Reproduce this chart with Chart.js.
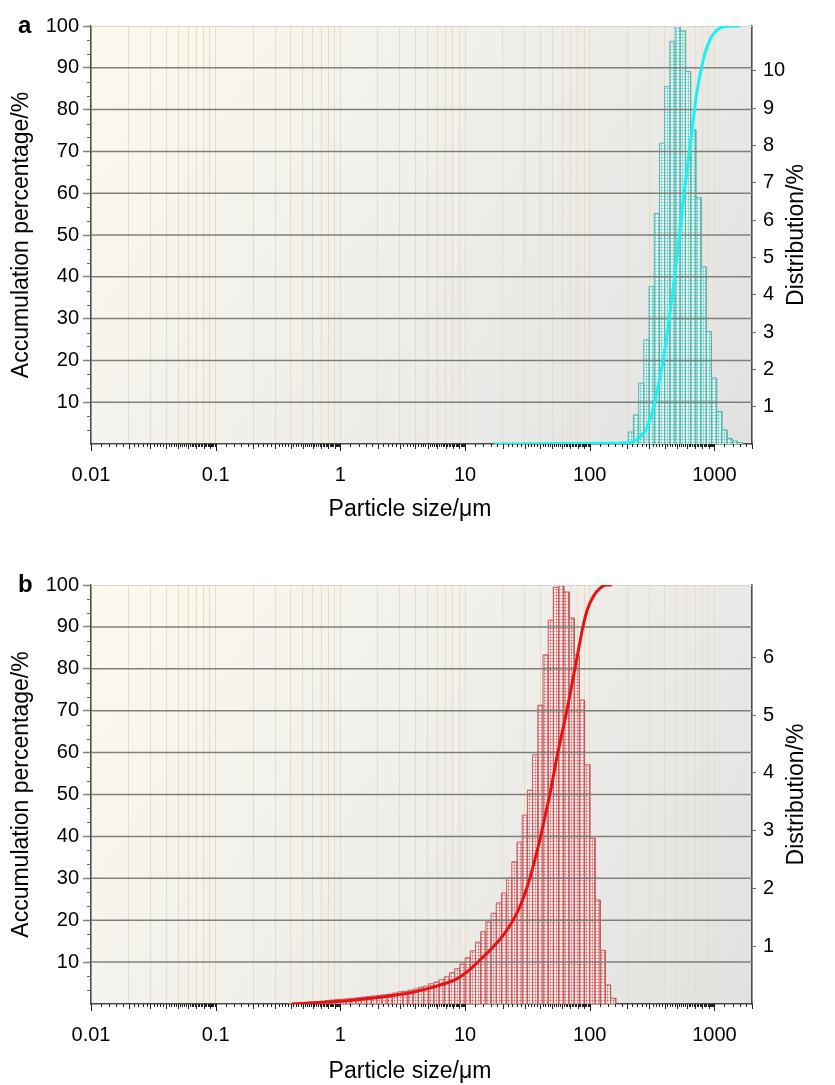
<!DOCTYPE html>
<html lang="en">
<head>
<meta charset="UTF-8" />
<title>Particle size distribution</title>
<script src="https://cdn.jsdelivr.net/npm/chart.js@4.4.1/dist/chart.umd.min.js"></script>
<style>
  body { margin: 0; background: #fff; }
  #wrap { position: relative; width: 835px; height: 1085px; }
  canvas { position: absolute; left: 0; }
</style>
</head>
<body>
<div id="wrap">
  <canvas id="chartA" width="835" height="540" style="top:0px"></canvas>
  <canvas id="chartB" width="835" height="545" style="top:540px"></canvas>
</div>
<script>
// tick labels
const decadeTicks = [0.01, 0.1, 1, 10, 100, 1000];
const leftTicks = [10, 20, 30, 40, 50, 60, 70, 80, 90, 100];
const rightTicksA = [1, 2, 3, 4, 5, 6, 7, 8, 9, 10];
const rightTicksB = [1, 2, 3, 4, 5, 6];

// panel a: size class edges (µm) and distribution (%)
const binEdgesA = [185, 203.5, 224, 246.6, 271.4, 298.8, 328.9, 362, 398.4, 438.6, 482.8, 531.3,
  584.8, 643.8, 708.5, 779.9, 858.4, 944.8, 1040, 1144.7, 1260, 1386.8, 1526.5, 1680];
const distA = [0.05, 0.32, 0.78, 1.63, 2.79, 4.22, 6.18, 8.06, 9.58, 10.79, 11.19, 11.07, 9.98,
  8.42, 6.60, 4.75, 3.01, 1.77, 0.87, 0.38, 0.15, 0.08, 0.04];
// panel a: accumulation curve
const cumSizeA = [17, 60, 150, 200, 223, 268, 304, 344, 388, 440, 497, 546, 598, 656, 720, 813, 920, 1107, 1409, 1600];
const cumA = [0, 0.1, 0.2, 0.3, 0.55, 2.5, 5.7, 12.1, 20.1, 31.3, 44.0, 55.2, 64.8, 74.4, 83.9, 91.9, 96.7, 99.5, 100, 100];

// panel b
const binEdgesB = [0.383, 0.422, 0.464, 0.511, 0.562, 0.619, 0.681, 0.750, 0.825, 0.909,
  1, 1.101, 1.212, 1.334, 1.468, 1.616, 1.778, 1.957, 2.154, 2.371, 2.610, 2.873,
  3.162, 3.481, 3.831, 4.217, 4.642, 5.109, 5.623, 6.190, 6.813, 7.499, 8.254, 9.085,
  10, 11.01, 12.12, 13.34, 14.68, 16.16, 17.78, 19.57, 21.54, 23.71, 26.10, 28.73,
  31.62, 34.81, 38.31, 42.17, 46.42, 51.09, 56.23, 61.90, 68.13, 74.99, 82.54, 90.85,
  100, 110.1, 121.2, 133.4, 146.8, 161.6];
const distB = [0.01, 0.015, 0.02, 0.03, 0.04, 0.045, 0.05, 0.06, 0.07, 0.08, 0.085, 0.09,
  0.10, 0.11, 0.12, 0.13, 0.14, 0.15, 0.16, 0.17, 0.19, 0.21, 0.22, 0.24, 0.26, 0.29,
  0.31, 0.35, 0.38, 0.42, 0.47, 0.54, 0.61, 0.69, 0.80, 0.92, 1.07, 1.25, 1.42, 1.57,
  1.75, 1.92, 2.18, 2.46, 2.80, 3.27, 3.70, 4.31, 5.17, 6.04, 6.64, 7.21, 7.25, 7.13,
  6.68, 6.04, 5.26, 4.14, 2.87, 1.80, 0.93, 0.33, 0.10];
const cumSizeB = [0.41, 0.57, 0.82, 1.12, 2.07, 3.8, 6.27, 8.58, 10.9, 12.65, 15.79, 18.99,
  21.61, 24.15, 27.48, 30.14, 33.06, 36.26, 40.51, 43.61, 47.84, 51.51, 55.46, 60.82, 65.49,
  70.51, 75.93, 81.75, 88.02, 96.55, 107.9, 120.5, 134.7, 150];
const cumB = [0, 0.2, 0.5, 0.8, 1.6, 2.8, 4.5, 6.0, 8.2, 10, 12.8, 15.4,
  17.6, 19.9, 23.2, 26.3, 30, 34.4, 40.2, 44.6, 50, 55, 60, 65.5, 70,
  75, 80, 85, 90, 94.5, 97.5, 99.2, 100, 100];

const FONT = "'Liberation Sans', Arial, Helvetica, sans-serif";
Chart.defaults.font.family = FONT;

// outline of the histogram: every class as its own closed box
function barOutline(edges, vals) {
  const pts = [];
  vals.forEach((v, i) => {
    pts.push({ x: edges[i], y: 0 }, { x: edges[i], y: v }, { x: edges[i + 1], y: v }, { x: edges[i + 1], y: 0 });
  });
  return pts;
}

// dotted fill like the original hatch
function dotPattern(ctx, base, ring, dot) {
  const c = document.createElement("canvas");
  c.width = 3; c.height = 3;
  const g = c.getContext("2d");
  g.fillStyle = base; g.fillRect(0, 0, 3, 3);
  g.fillStyle = ring;
  g.fillRect(1, 0, 1, 1); g.fillRect(0, 1, 1, 1); g.fillRect(2, 1, 1, 1); g.fillRect(1, 2, 1, 1);
  g.fillStyle = dot;
  g.fillRect(1, 1, 1, 1);
  return ctx.createPattern(c, "repeat");
}

// background, grid over the bars, minor ticks, titles
const frame = {
  id: "frame",
  beforeDraw(chart) {
    const { ctx, chartArea: a } = chart;
    const g = ctx.createLinearGradient(a.left, a.top, a.right, a.bottom);
    g.addColorStop(0, "#fcf9ef");
    g.addColorStop(0.5, "#efeeea");
    g.addColorStop(1, "#e1e1e1");
    ctx.save();
    ctx.fillStyle = g;
    ctx.fillRect(a.left, a.top, a.right - a.left, a.bottom - a.top);
    ctx.restore();
  },
  afterDatasetDraw(chart, args) {
    if (args.index !== 1) return;
    const { ctx, chartArea: a } = chart;
    const y = chart.scales.y;
    ctx.save();
    ctx.strokeStyle = "#80807a";
    ctx.lineWidth = 1.5;
    leftTicks.forEach((v) => {
      if (v >= 100) return;
      const py = y.getPixelForValue(v);
      ctx.beginPath(); ctx.moveTo(a.left, py); ctx.lineTo(a.right, py); ctx.stroke();
    });
    ctx.strokeStyle = "#d6d6d2";
    ctx.lineWidth = 1;
    ctx.beginPath(); ctx.moveTo(a.left, a.top + 0.5); ctx.lineTo(a.right, a.top + 0.5); ctx.stroke();
    ctx.restore();
  },
  afterDraw(chart, args, o) {
    const { ctx, chartArea: a } = chart;
    const x = chart.scales.x, y = chart.scales.y;
    ctx.save();
    // x minor ticks
    ctx.strokeStyle = "#222";
    ctx.lineWidth = 1;
    decadeTicks.forEach((d) => {
      for (let i = 0; i < 45; i++) {
        const v = d * (1 + i * 0.2);
        if (v > x.max) break;
        const px = Math.round(x.getPixelForValue(v)) + 0.5;
        const len = i === 0 ? 7 : (i % 5 === 0 ? 5 : 3);
        ctx.beginPath(); ctx.moveTo(px, a.bottom); ctx.lineTo(px, a.bottom + len); ctx.stroke();
      }
    });
    // left minor ticks
    ctx.strokeStyle = "#666";
    for (let k = 1; k < 30; k++) {
      if (k % 3 === 0) continue;
      const py = Math.round(y.getPixelForValue(k * 10 / 3)) + 0.5;
      ctx.beginPath(); ctx.moveTo(a.left - 4, py); ctx.lineTo(a.left, py); ctx.stroke();
    }
    // titles
    ctx.fillStyle = "#000";
    ctx.font = "23px " + FONT;
    ctx.textAlign = "center";
    ctx.textBaseline = "middle";
    const midY = (a.top + a.bottom) / 2;
    ctx.fillText("Particle size/\u03bcm", 410, a.bottom + o.titleGap);
    ctx.save(); ctx.translate(22, midY); ctx.rotate(-Math.PI / 2);
    ctx.fillText("Accumulation percentage/%", 0, 0); ctx.restore();
    ctx.save(); ctx.translate(797, midY); ctx.rotate(-Math.PI / 2);
    ctx.fillText("Distribution/%", 0, 0); ctx.restore();
    // panel letter
    ctx.font = "bold 24px " + FONT;
    ctx.textAlign = "left";
    ctx.textBaseline = "alphabetic";
    ctx.fillText(o.letter, 18, a.top + 7);
    ctx.restore();
  },
};

function makeChart(id, opt) {
  const el = document.getElementById(id);
  const ctx = el.getContext("2d");
  const gridValues = [];
  decadeTicks.forEach((d) => {
    for (let m = 1; m <= 9; m++) if (d * m <= 2000) gridValues.push({ value: d * m, major: m === 1 });
  });
  return new Chart(ctx, {
    type: "line",
    data: {
      datasets: [
        {
          label: "Accumulation",
          data: opt.cumSize.map((s, i) => ({ x: s, y: opt.cum[i] })),
          yAxisID: "y",
          borderColor: opt.lineColor,
          borderWidth: 3,
          pointRadius: 0,
          cubicInterpolationMode: "monotone",
          fill: false,
          order: 0,
        },
        {
          label: "Distribution",
          data: barOutline(opt.edges, opt.dist),
          yAxisID: "y2",
          borderColor: opt.barEdge,
          borderWidth: 1,
          backgroundColor: dotPattern(ctx, opt.barBase, opt.barRing, opt.barDot),
          pointRadius: 0,
          tension: 0,
          fill: "origin",
          order: 1,
        },
      ],
    },
    options: {
      responsive: false,
      animation: false,
      events: [],
      layout: { padding: { top: opt.top, left: 0, right: 0, bottom: 0 } },
      plugins: {
        legend: { display: false },
        tooltip: { enabled: false },
        frame: { letter: opt.letter, titleGap: opt.titleGap },
      },
      scales: {
        x: {
          type: "logarithmic",
          min: 0.01,
          max: 2000,
          afterBuildTicks: (s) => { s.ticks = gridValues.map((g) => ({ value: g.value, major: g.major })); },
          afterFit: (s) => { s.height = opt.xHeight; },
          grid: { color: "#e8dcc2", lineWidth: 1, drawTicks: false },
          border: { color: "#4a4a4a", width: 1.5 },
          ticks: {
            autoSkip: false,
            maxRotation: 0,
            padding: 19,
            color: "#000",
            font: { size: 20 },
            callback: (v, i, t) => (t[i].major ? String(v) : ""),
          },
        },
        y: {
          type: "linear",
          position: "left",
          min: 0,
          max: 100,
          afterBuildTicks: (s) => { s.ticks = leftTicks.map((v) => ({ value: v })); },
          afterFit: (s) => { s.width = 91; },
          grid: { drawOnChartArea: false, tickLength: 8, tickColor: "#80807a", tickWidth: 1.5 },
          border: { color: "#4a4a4a", width: 1.5 },
          ticks: { padding: 4, color: "#000", font: { size: 20 } },
        },
        y2: {
          type: "linear",
          position: "right",
          min: 0,
          max: opt.rightMax,
          afterBuildTicks: (s) => { s.ticks = opt.rightTicks.map((v) => ({ value: v })); },
          afterFit: (s) => { s.width = 83; },
          grid: { drawOnChartArea: false, tickLength: 4, tickColor: "#666" },
          border: { color: "#4a4a4a", width: 1.5 },
          ticks: { padding: 7, color: "#000", font: { size: 20 } },
        },
      },
    },
    plugins: [frame],
  });
}

makeChart("chartA", {
  letter: "a", top: 26, xHeight: 96, titleGap: 66,
  edges: binEdgesA, dist: distA, cumSize: cumSizeA, cum: cumA,
  rightMax: 11.2, rightTicks: rightTicksA,
  lineColor: "#1cf0f0", barEdge: "#5ab4af", barBase: "#e9f7f5", barRing: "#a4e0dc", barDot: "#62c2bd",
});

makeChart("chartB", {
  letter: "b", top: 45, xHeight: 81, titleGap: 68,
  edges: binEdgesB, dist: distB, cumSize: cumSizeB, cum: cumB,
  rightMax: 7.25, rightTicks: rightTicksB,
  lineColor: "#e81212", barEdge: "#c45a5a", barBase: "#faecec", barRing: "#e9b2b2", barDot: "#d46666",
});
</script>
</body>
</html>
